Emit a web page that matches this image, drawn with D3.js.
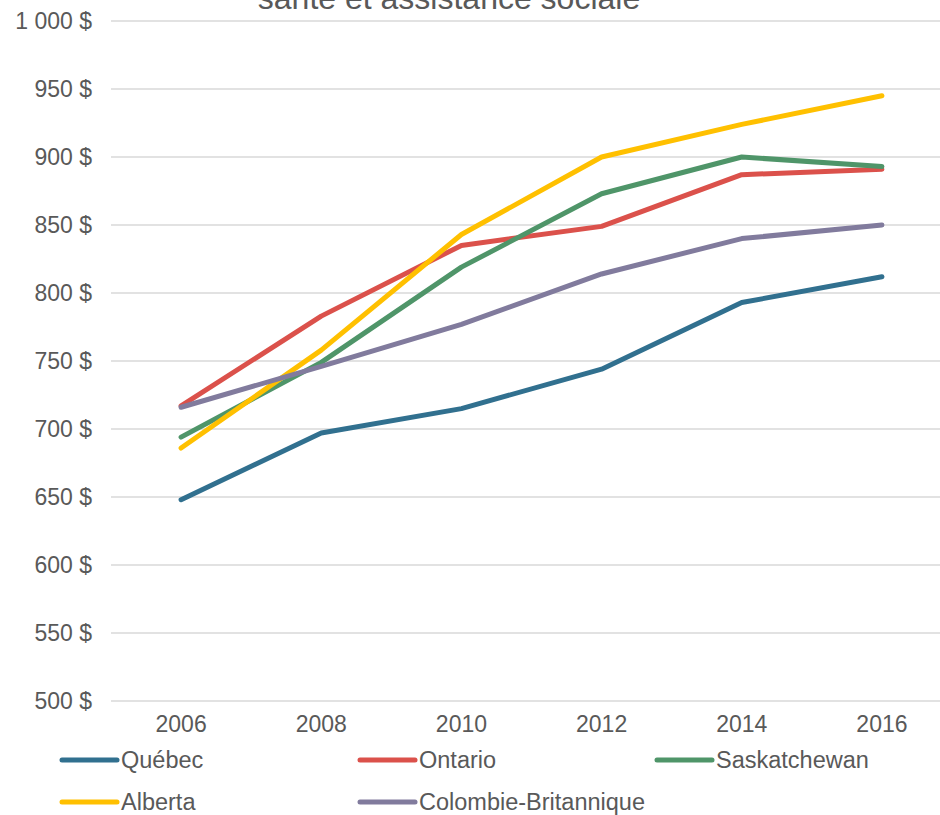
<!DOCTYPE html>
<html>
<head>
<meta charset="utf-8">
<script src="https://cdn.jsdelivr.net/npm/d3@7"></script>
<style>
  body { margin: 0; background: #fff; }
  svg { display: block; font-family: "Liberation Sans", Arial, sans-serif; }
</style>
</head>
<body>
<div id="chart"></div>
<script>
const years = ["2006", "2008", "2010", "2012", "2014", "2016"]
const yTicks = [500, 550, 600, 650, 700, 750, 800, 850, 900, 950, 1000]
const seriesNames = ["Québec", "Ontario", "Saskatchewan", "Alberta", "Colombie-Britannique"]
const seriesColors = ["#31708F", "#DB514B", "#4F9569", "#FFC000", "#817B9D"]
const quebec = [648, 697, 715, 744, 793, 812]
const ontario = [717, 783, 835, 849, 887, 891]
const saskatchewan = [694, 749, 819, 873, 900, 893]
const alberta = [686, 758, 843, 900, 924, 945]
const colombieBritannique = [716, 746, 777, 814, 840, 850]
const seriesValues = [quebec, ontario, saskatchewan, alberta, colombieBritannique]

const width = 940, height = 815
const plotLeft = 111, plotRight = 952
const svg = d3.select("#chart").append("svg")
  .attr("width", width)
  .attr("height", height)

const xScale = d3.scaleBand()
  .domain(years)
  .range([plotLeft, plotRight])
const yScale = d3.scaleLinear()
  .domain([500, 1000])
  .range([701, 21])

// title, cut by the top edge like in the source
svg.append("text")
  .attr("x", 449)
  .attr("y", 9)
  .attr("text-anchor", "middle")
  .attr("fill", "#595959")
  .style("font-size", "32px")
  .text("santé et assistance sociale")

// grid
svg.append("g")
  .selectAll("line")
  .data(yTicks)
  .join("line")
  .attr("x1", plotLeft)
  .attr("x2", width)
  .attr("y1", d => yScale(d))
  .attr("y2", d => yScale(d))
  .attr("stroke", "#D9D9D9")
  .attr("stroke-width", 1.5)

const fmt = d => d3.format(",")(d).replace(",", " ") + " $"
const yAxis = d3.axisLeft(yScale)
  .tickValues(yTicks)
  .tickFormat(fmt)
  .tickSize(0)
  .tickPadding(0)
svg.append("g")
  .attr("transform", "translate(92,0)")
  .call(yAxis)
  .call(g => g.select(".domain").remove())
  .selectAll("text")
  .attr("fill", "#595959")
  .style("font-size", "23px")
  .style("font-family", "'Liberation Sans', Arial, sans-serif")

const xAxis = d3.axisBottom(xScale)
  .tickSize(0)
  .tickPadding(0)
svg.append("g")
  .attr("transform", "translate(0,716)")
  .call(xAxis)
  .call(g => g.select(".domain").remove())
  .selectAll("text")
  .attr("fill", "#595959")
  .style("font-size", "23px")
  .style("font-family", "'Liberation Sans', Arial, sans-serif")

const line = d3.line()
  .x((d, i) => xScale(years[i]) + xScale.bandwidth() / 2)
  .y(d => yScale(d))

svg.append("g")
  .selectAll("path")
  .data(seriesValues)
  .join("path")
  .attr("d", line)
  .attr("fill", "none")
  .attr("stroke", (d, i) => seriesColors[i])
  .attr("stroke-width", 5)
  .attr("stroke-linecap", "round")
  .attr("stroke-linejoin", "round")

// legend
const legendPos = [[62, 760], [360, 760], [657, 760], [62, 802], [360, 802]]
const legend = svg.append("g")
  .selectAll("g")
  .data(seriesNames)
  .join("g")
  .attr("transform", (d, i) => "translate(" + legendPos[i][0] + "," + legendPos[i][1] + ")")
legend.append("line")
  .attr("x1", 0)
  .attr("x2", 55)
  .attr("stroke", (d, i) => seriesColors[i])
  .attr("stroke-width", 5)
  .attr("stroke-linecap", "round")
legend.append("text")
  .attr("x", 59)
  .attr("y", 8)
  .attr("fill", "#595959")
  .style("font-size", "23.5px")
  .text(d => d)
</script>
</body>
</html>
